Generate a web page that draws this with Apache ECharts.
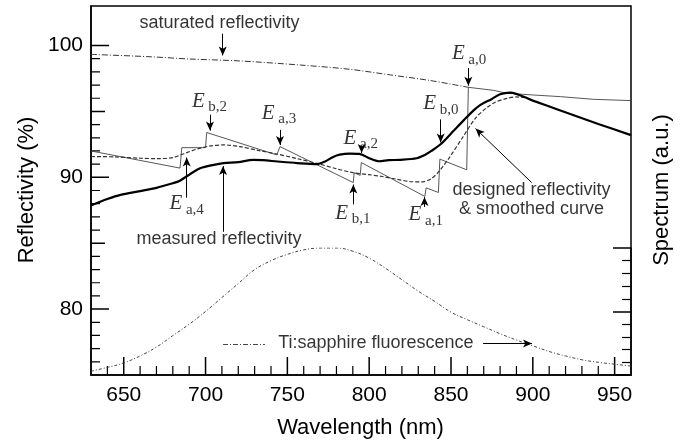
<!DOCTYPE html>
<html>
<head>
<meta charset="utf-8">
<script src="https://cdn.jsdelivr.net/npm/echarts@6/dist/echarts.min.js"></script>
<style>html,body{margin:0;padding:0;background:#fff}#c{width:689px;height:447px}</style>
</head>
<body>
<div id="c"></div>
<script>
// ---------- data ----------
const wavelengthTicks = [650, 700, 750, 800, 850, 900, 950];
const wavelengthMinorTicks = [640, 660, 670, 680, 690, 710, 720, 730, 740, 760, 770, 780, 790,
  810, 820, 830, 840, 860, 870, 880, 890, 910, 920, 930, 940];
const reflLabelTicks = [80, 90, 100];
const reflMidTicks = [85, 95];
const reflMinorTicks = [76, 77, 78, 79, 81, 82, 83, 84, 86, 87, 88, 89, 91, 92, 93, 94, 96, 97, 98, 99];

// measured reflectivity [wavelength nm, %]
const measured = [
  [630, 87.86], [640, 88.35], [648, 88.67], [660, 88.95], [670, 89.2], [680, 89.55], [684, 89.72],
  [690, 90.2], [697, 90.7], [705, 90.95], [711, 91.08], [720, 91.15], [729, 91.33], [735, 91.3],
  [744, 91.2], [756, 91.08], [768, 91.0], [773, 91.2], [778, 91.55], [782, 91.72], [788, 91.8],
  [794, 91.78], [800, 91.45], [806, 91.22], [812, 91.3], [819, 91.33], [829, 91.45], [834, 91.7],
  [838, 92.0], [844, 92.55], [851, 93.45], [858, 94.36], [864, 95.1], [868, 95.5], [875, 95.95],
  [880, 96.3], [886, 96.43], [900, 95.82], [916, 95.11], [940, 94.05], [960, 93.2]
];
// saturated reflectivity (dash-dot part)
const saturated = [
  [630, 99.33], [666, 99.15], [690, 98.98], [721, 98.83], [758, 98.52], [788, 98.2],
  [813, 97.77], [837, 97.35], [860.6, 96.83]
];
// designed reflectivity (sawtooth; follows saturated after E a,0)
const designed = [
  [630, 92.0], [684.4, 90.7], [685.5, 92.25], [700, 92.25], [700.7, 93.4], [743.5, 91.7],
  [745.5, 92.33], [790.3, 89.6], [790.8, 90.35], [794.5, 90.15], [795.2, 91.12], [834, 88.55],
  [834.8, 89.2], [842.3, 88.85], [843.2, 91.38], [859.6, 90.57], [860.6, 96.83], [876, 96.6],
  [884, 96.38], [900, 96.25], [917, 96.12], [937, 95.92], [960, 95.82]
];
// smoothed designed curve
const smoothed = [
  [630, 91.58], [645, 91.55], [660, 91.45], [670, 91.42], [680, 91.5], [688, 91.85], [695, 92.15],
  [703, 92.38], [711, 92.46], [721, 92.33], [732, 92.05], [743.5, 91.77], [756, 91.42], [768, 91.06],
  [780, 90.65], [790, 90.35], [800, 90.2], [808, 90.06], [817, 89.85], [825, 89.68], [832, 89.65],
  [838, 89.9], [843, 90.5], [849, 91.5], [857.5, 93.1], [865, 94.5], [872, 95.3], [877, 95.7],
  [883, 95.95], [890, 96.1], [895, 96.05]
];
// Ti:sapphire fluorescence spectrum (a.u., peak = 1)
const fluorescence = [
  [630, 0.03], [640, 0.06], [650, 0.095], [660, 0.15], [670, 0.22], [680, 0.31], [690, 0.40],
  [700, 0.50], [710, 0.61], [720, 0.72], [730, 0.83], [740, 0.90], [750, 0.95], [760, 0.985],
  [770, 1.0], [780, 1.0], [790, 0.975], [800, 0.92], [810, 0.84], [820, 0.75], [830, 0.66],
  [840, 0.58], [850, 0.495], [860, 0.435], [870, 0.38], [880, 0.325], [890, 0.275], [900, 0.23],
  [910, 0.185], [920, 0.15], [930, 0.12], [940, 0.10], [950, 0.085], [960, 0.07]
];

// annotation texts [wavelength, reflectivity, text]
const textNotes = [
  [708.5, 101.72, 'saturated reflectivity'],
  [708.2, 85.34, 'measured reflectivity'],
  [899.2, 88.31, 'designed reflectivity\n& smoothed curve'],
  [804.1, 77.46, 'Ti:sapphire fluorescence']
];
// energy markers [wavelength, reflectivity, subscript]
const energyNotes = [
  [854.5, 99.38, 'a,0'], [837.0, 95.59, 'b,0'], [695.6, 95.76, 'b,2'], [738.3, 94.85, 'a,3'],
  [788.3, 92.95, 'a,2'], [681.9, 87.99, 'a,4'], [783.2, 87.29, 'b,1'], [828.0, 87.16, 'a,1']
];
// arrows [[from], [to]]
const arrows = [
  [[710.5, 100.9], [710.5, 99.25]],
  [[702.7, 94.75], [702.7, 93.55]],
  [[745.5, 93.6], [745.5, 92.45]],
  [[795.4, 92.25], [795.4, 91.85]],
  [[860.6, 98.3], [860.6, 96.95]],
  [[843.7, 94.4], [843.7, 92.65]],
  [[688.5, 88.45], [688.5, 91.5]],
  [[790.3, 87.95], [790.3, 89.45]],
  [[833.8, 87.75], [833.8, 88.5]],
  [[710.7, 85.87], [710.7, 90.85]],
  [[899.3, 89.6], [865.0, 93.7]],
  [[869.6, 77.39], [899.5, 77.39]]
];
const legendSample = [[710.7, 77.33], [736.3, 77.33]];

// ---------- chart ----------
const SANS = '"Liberation Sans", Arial, Helvetica, sans-serif';
const SERIF = '"Liberation Serif", "Times New Roman", serif';
const X_MIN = 630, X_MAX = 960, Y_MIN = 75, Y_MAX = 103;
const PLOT = { left: 91, top: 6, width: 540, height: 369 };
const pxPerNm = PLOT.width / (X_MAX - X_MIN);
const pxPerR = PLOT.height / (Y_MAX - Y_MIN);
const chart = echarts.init(document.getElementById('c'));

const arrowLines = arrows.map(a => [
  { coord: a[0], symbol: 'none' },
  { coord: a[1], symbol: 'arrow', symbolSize: [6, 9] }
]);
arrowLines.push([
  { coord: legendSample[0], symbol: 'none', lineStyle: { type: [5, 2, 1, 2], color: '#444', width: 1 } },
  { coord: legendSample[1], symbol: 'none' }
]);

// inward frame ticks drawn as broken line series (tick length in px -> data units via plot scale)
function vTicks(values, lenPx) {
  const d = [];
  values.forEach(v => { d.push([v, Y_MIN], [v, Y_MIN + lenPx / pxPerR], [v, '-']); });
  return d;
}
function hTicks(values, lenPx) {
  const d = [];
  values.forEach(v => { d.push([X_MIN, v], [X_MIN + lenPx / pxPerNm, v], ['-', v]); });
  return d;
}
function tickSeries(data, width) {
  return {
    type: 'line', xAxisIndex: 0, yAxisIndex: 0, data: data, connectNulls: false,
    showSymbol: false, symbol: 'none', silent: true, clip: false,
    lineStyle: { color: '#000', width: width, type: 'solid' }
  };
}

const tickStyle = { color: '#000', width: 1.5 };
const minorStyle = { color: '#000', width: 1.2 };
const titleStyle = { fontSize: 22, fontFamily: SANS, fill: '#000', align: 'center', verticalAlign: 'middle', textAlign: 'center', textVerticalAlign: 'middle' };

const option = {
  animation: false,
  grid: [
    Object.assign({ show: true, borderColor: '#000', borderWidth: 1.5, backgroundColor: 'transparent' }, PLOT),
    { left: 91, top: 248, width: 540, height: 127 }
  ],
  graphic: [
    { type: 'text', x: 27, y: 190, rotation: Math.PI / 2, style: Object.assign({ text: 'Reflectivity (%)' }, titleStyle) },
    { type: 'text', x: 662, y: 190, rotation: Math.PI / 2, style: Object.assign({ text: 'Spectrum (a.u.)' }, titleStyle) },
    { type: 'text', x: 360.5, y: 428, style: Object.assign({ text: 'Wavelength (nm)' }, titleStyle) }
  ],
  xAxis: [
    {
      gridIndex: 0, type: 'value', min: X_MIN, max: X_MAX, position: 'bottom',
      axisLine: { show: true, lineStyle: { color: '#000', width: 1.5 } },
      axisTick: { show: false },
      axisLabel: { customValues: wavelengthTicks, color: '#000', fontSize: 21, fontFamily: SANS, margin: 10 },
      splitLine: { show: false }
    },
    { gridIndex: 1, type: 'value', min: X_MIN, max: X_MAX, show: false }
  ],
  yAxis: [
    {
      gridIndex: 0, type: 'value', min: Y_MIN, max: Y_MAX, position: 'left',
      axisLine: { show: true, lineStyle: { color: '#000', width: 1.5 } },
      axisTick: { show: false },
      axisLabel: { customValues: reflLabelTicks, color: '#000', fontSize: 21, fontFamily: SANS, margin: 8 },
      splitLine: { show: false }
    },
    {
      gridIndex: 1, type: 'value', min: 0, max: 1, interval: 0.5, position: 'right',
      axisLine: { show: true, lineStyle: { color: '#000', width: 1.5 } },
      axisTick: { show: true, inside: true, length: 18, lineStyle: tickStyle },
      minorTick: { show: true, splitNumber: 5, length: 9, lineStyle: minorStyle },
      axisLabel: { show: false }, splitLine: { show: false }, minorSplitLine: { show: false }
    }
  ],
  series: [
    tickSeries(vTicks(wavelengthTicks, 18), 1.5),
    tickSeries(vTicks(wavelengthMinorTicks, 9), 1.2),
    tickSeries(hTicks(reflLabelTicks, 18), 1.5),
    tickSeries(hTicks(reflMidTicks, 14), 1.5),
    tickSeries(hTicks(reflMinorTicks, 9), 1.2),
    {
      name: 'saturated', type: 'line', xAxisIndex: 0, yAxisIndex: 0, data: saturated,
      showSymbol: false, symbol: 'none', smooth: 0.3,
      lineStyle: { color: '#333', width: 1, type: [6, 2, 1, 2] }
    },
    {
      name: 'designed', type: 'line', xAxisIndex: 0, yAxisIndex: 0, data: designed,
      showSymbol: false, symbol: 'none',
      lineStyle: { color: '#444', width: 0.9 }
    },
    {
      name: 'smoothed', type: 'line', xAxisIndex: 0, yAxisIndex: 0, data: smoothed,
      showSymbol: false, symbol: 'none', smooth: 0.3,
      lineStyle: { color: '#333', width: 1.2, type: [4, 2] }
    },
    {
      name: 'fluorescence', type: 'line', xAxisIndex: 1, yAxisIndex: 1, data: fluorescence,
      showSymbol: false, symbol: 'none', smooth: 0.4,
      lineStyle: { color: '#444', width: 1, type: [3, 2, 1, 2] }
    },
    {
      name: 'measured', type: 'line', xAxisIndex: 0, yAxisIndex: 0, data: measured,
      showSymbol: false, symbol: 'none', smooth: 0.3,
      lineStyle: { color: '#000', width: 2.2 },
      markLine: {
        silent: true, animation: false,
        label: { show: false },
        lineStyle: { color: '#000', width: 1, type: 'solid' },
        emphasis: { disabled: true },
        data: arrowLines
      }
    },
    {
      name: 'notes', type: 'scatter', xAxisIndex: 0, yAxisIndex: 0, data: textNotes,
      symbolSize: 0, silent: true,
      label: {
        show: true, position: 'inside', color: '#000', fontSize: 18, fontFamily: SANS,
        lineHeight: 19, align: 'center',
        formatter: p => p.value[2]
      }
    },
    {
      name: 'E', type: 'scatter', xAxisIndex: 0, yAxisIndex: 0, data: energyNotes,
      symbolSize: 0, silent: true,
      label: {
        show: true, position: 'inside', color: '#000', fontSize: 21, fontFamily: SERIF,
        fontStyle: 'italic', align: 'center', verticalAlign: 'middle',
        formatter: () => 'E'
      }
    },
    {
      name: 'Esub', type: 'scatter', xAxisIndex: 0, yAxisIndex: 0, data: energyNotes,
      symbolSize: 0, silent: true,
      label: {
        show: true, position: 'inside', color: '#000', fontSize: 15, fontFamily: SERIF,
        align: 'left', verticalAlign: 'middle', offset: [10, 6],
        formatter: p => p.value[2]
      }
    }
  ]
};
chart.setOption(option);
</script>
</body>
</html>
